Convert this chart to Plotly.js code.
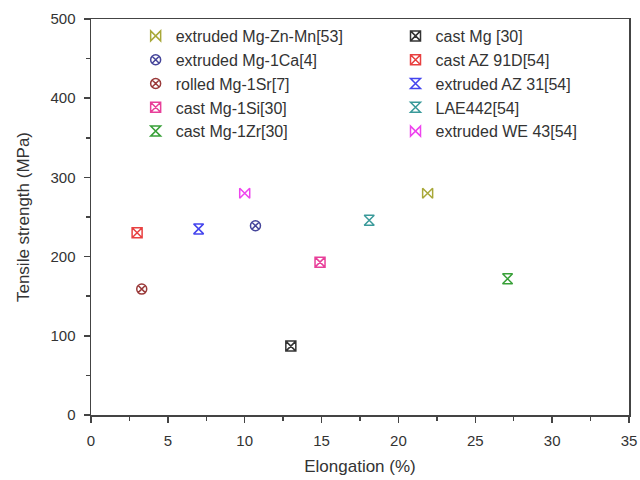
<!DOCTYPE html>
<html>
<head>
<meta charset="utf-8">
<script src="https://cdn.plot.ly/plotly-3.0.1.min.js"></script>
<style>html,body{margin:0;padding:0;background:#fff}#chart{width:640px;height:480px}</style>
</head>
<body>
<div id="chart"></div>
<script>
const names = ["extruded Mg-Zn-Mn[53]","extruded Mg-1Ca[4]","rolled Mg-1Sr[7]","cast Mg-1Si[30]","cast Mg-1Zr[30]",
               "cast Mg [30]","cast AZ 91D[54]","extruded AZ 31[54]","LAE442[54]","extruded WE 43[54]"];
const elongation = [21.9, 10.7, 3.3, 14.9, 27.1, 13.0, 3.0, 7.0, 18.1, 10.0];
const tensile    = [280, 239, 159, 193, 172, 87, 230, 235, 246, 280];
const colors  = ["#a8a838","#45459a","#9a3a3a","#e8409a","#38a038","#333333","#e84040","#4444ee","#3a9a9a","#ee44ee"];
const symbols = ["bowtie-open","circle-x-open","circle-x-open","square-x-open","hourglass-open",
                 "square-x-open","square-x-open","hourglass-open","hourglass-open","bowtie-open"];

const traces = names.map((n,i)=>({
  type:'scatter', mode:'markers', name:n,
  x:[elongation[i]], y:[tensile[i]],
  legend: i<5 ? 'legend' : 'legend2',
  legendgroup: 'g'+i,
  marker:{symbol:symbols[i], color:colors[i], size:10, line:{width:1.5, color:colors[i]}}
}));

const FONT = 'Liberation Sans, Arial, sans-serif';
const axisBase = {
  showgrid:false, zeroline:false, showline:true, mirror:true,
  linecolor:'#444', linewidth:1.5, ticks:'outside', ticklen:6, tickwidth:1.5, tickcolor:'#444',
  ticklabelstandoff:5,
  tickfont:{family:FONT, size:15, color:'#333'}
};

const legendBase = {
  orientation:'v', traceorder:'grouped', tracegroupgap:0, bgcolor:'rgba(0,0,0,0)',
  font:{family:FONT, size:16, color:'#333'},
  xanchor:'left', yanchor:'top', itemwidth:30
};

const layout = {
  width:640, height:480,
  margin:{l:91, r:11, t:19, b:65},
  paper_bgcolor:'#fff', plot_bgcolor:'#fff',
  xaxis: Object.assign({}, axisBase, {range:[0,35], dtick:5, tick0:0,
    minor:{dtick:2.5, ticks:'outside', ticklen:4, tickwidth:1.5, tickcolor:'#444'},
    title:{text:'Elongation (%)', font:{family:FONT, size:17, color:'#333'}, standoff:12}}),
  yaxis: Object.assign({}, axisBase, {range:[0,500], dtick:100, tick0:0,
    minor:{dtick:50, ticks:'outside', ticklen:4, tickwidth:1.5, tickcolor:'#444'},
    title:{text:'Tensile strength (MPa)', font:{family:FONT, size:17, color:'#333'}, standoff:16}}),
  legend: Object.assign({}, legendBase, {x:0.083, y:1.0}),
  legend2: Object.assign({}, legendBase, {x:0.566, y:1.0}),
  showlegend:true
};

Plotly.newPlot('chart', traces, layout, {displayModeBar:false, staticPlot:true});
</script>
</body>
</html>
